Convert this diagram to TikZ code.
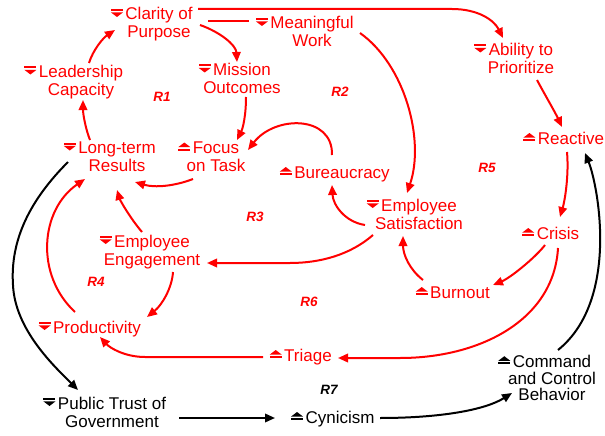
\documentclass[tikz,border=0pt]{standalone}
\usepackage{fontspec}
\setmainfont{Liberation Sans}
\usetikzlibrary{arrows.meta}
\definecolor{cred}{RGB}{255,0,0}
\newcommand\dnsym[1]{\tikz[baseline=0pt,x=1pt,y=1pt]{\fill[#1] (0,9) rectangle (12,11);\fill[#1] (0,7.6) -- (12,7.6) -- (6,3) -- cycle;}}
\newcommand\upsym[1]{\tikz[baseline=0pt,x=1pt,y=1pt]{\fill[#1] (0,3) rectangle (12,5);\fill[#1] (0,6.4) -- (12,6.4) -- (6,11) -- cycle;}}
\newcommand\ts{\rule[-4pt]{0pt}{17pt}}
\newcommand\dn[1]{\llap{\dnsym{#1}\hspace{2.5pt}}}
\newcommand\up[1]{\llap{\upsym{#1}\hspace{2.5pt}}}
\tikzset{
  var/.style={text=cred, align=center, inner sep=0pt, font=\fontsize{17pt}{16.8pt}\selectfont},
  bvar/.style={var, text=black},
  loop/.style={text=cred, inner sep=0pt, font=\fontsize{13.5pt}{14pt}\selectfont\bfseries\itshape},
  rl/.style={draw=cred, line width=2pt, -{Triangle[length=10pt,width=8.5pt]}},
  bl/.style={draw=black, line width=2pt, -{Triangle[length=10pt,width=8.5pt]}},
  rplain/.style={draw=cred, line width=2pt}
}
\begin{document}
\begin{tikzpicture}[x=1pt,y=-1pt]
\useasboundingbox (0,0) rectangle (605,436);
\fill[white] (0,0) rectangle (605,436);
% variables
\node[var] (clar) at (159,24.5) {\dn{cred}\ts Clarity of\\Purpose\ts};
\node[var] (mean) at (312,33.5) {\dn{cred}\ts Meaningful\\Work\ts};
\node[var] (mission) at (242,80) {\dn{cred}\ts Mission\\Outcomes\ts};
\node[var] (leader) at (81,82) {\dn{cred}\ts Leadership\\Capacity\ts};
\node[var] (longterm) at (117,158) {\dn{cred}\ts Long-term\\Results\ts};
\node[var] (focus) at (216,158) {\up{cred}\ts Focus\\on Task\ts};
\node[var] (bureau) at (342,173.5) {\up{cred}\ts Bureaucracy};
\node[var] (ability) at (521,60) {\dn{cred}\ts Ability to\\Prioritize\ts};
\node[var] (reactive) at (571,139.5) {\up{cred}\ts Reactive};
\node[var] (engage) at (152,251.5) {\dn{cred}\ts Employee\\Engagement\ts};
\node[var] (prod) at (97,328.5) {\dn{cred}\ts Productivity};
\node[var] (triage) at (308,356.5) {\up{cred}\ts Triage};
\node[var] (satis) at (419,215.5) {\dn{cred}\ts Employee\\Satisfaction\ts};
\node[var] (crisis) at (558,234.5) {\up{cred}\ts Crisis};
\node[var] (burnout) at (460,293.5) {\up{cred}\ts Burnout};
\node[bvar] (public) at (112,413.5) {\dn{black}\ts Public Trust of\\Government\ts};
\node[bvar] (cynic) at (340,418.5) {\up{black}\ts Cynicism};
\node[bvar] (command) at (552,379.5) {\up{black}\ts Command\\and Control\\Behavior\ts};
% loop labels
\node[loop] (r1) at (162,97) {R1};
\node[loop] (r2) at (340,92) {R2};
\node[loop] (r3) at (255,217) {R3};
\node[loop] (r4) at (96,282) {R4};
\node[loop] (r5) at (487,168) {R5};
\node[loop] (r6) at (309,302) {R6};
\node[loop, text=black] (r7) at (329,390) {R7};
% red connectors
\draw[rl] ([shift={(41,0.5)}]clar.center) .. controls (220,32) and (236,45) .. ([shift={(-5,-18)}]mission.center);
\draw[rl] ([shift={(39,-15.5)}]clar.center) -- (452,9) .. controls (478,9) and (494,20) .. ([shift={(-18,-22)}]ability.center);
\draw[rplain] ([shift={(49,-3.5)}]clar.center) -- ([shift={(-63,-12.5)}]mean.center);
\draw[rl] ([shift={(48,-0.5)}]mean.center) .. controls (405,65) and (425,140) .. ([shift={(-12,-22.5)}]satis.center);
\draw[rl] ([shift={(4,17)}]mission.center) .. controls (246,115) and (243,128) .. ([shift={(21,-18)}]focus.center);
\draw[rl] ([shift={(-10,-18.5)}]bureau.center) .. controls (333,115) and (275,115) .. ([shift={(32,-8)}]focus.center);
\draw[rl] ([shift={(-23,21)}]focus.center) .. controls (175,186) and (155,188) .. ([shift={(18,24)}]longterm.center);
\draw[rl] ([shift={(-27,-18)}]longterm.center) .. controls (86,130) and (83,115) .. ([shift={(2,18)}]leader.center);
\draw[rl] ([shift={(8,-19)}]leader.center) .. controls (93,50) and (103,38) .. ([shift={(-44,5.5)}]clar.center);
\draw[rl] ([shift={(-54,9.5)}]satis.center) .. controls (345,222) and (333,205) .. ([shift={(-10,11.5)}]bureau.center);
\draw[rl] ([shift={(-46,19.5)}]satis.center) .. controls (350,255) and (320,263) .. (290,263) -- ([shift={(55,11.5)}]engage.center);
\draw[rl] ([shift={(-37,-13.5)}]burnout.center) .. controls (410,270) and (403,255) .. ([shift={(-16,20.5)}]satis.center);
\draw[rl] ([shift={(-13,10.5)}]crisis.center) .. controls (535,258) and (510,278) .. ([shift={(33,-8.5)}]burnout.center);
\draw[rl] ([shift={(-4,12.5)}]reactive.center) .. controls (569,175) and (565,200) .. ([shift={(2,-17.5)}]crisis.center);
\draw[rl] ([shift={(16,20)}]ability.center) .. controls (545,95) and (555,112) .. ([shift={(-9,-12.5)}]reactive.center);
\draw[rl] ([shift={(0,13.5)}]crisis.center) .. controls (554,320) and (480,358) .. (400,358) -- ([shift={(30,1.5)}]triage.center);
\draw[rl] ([shift={(-45,0.5)}]triage.center) -- (145,357) .. controls (125,357) and (110,348) .. ([shift={(3,8.5)}]prod.center);
\draw[rl] ([shift={(21,20.5)}]engage.center) .. controls (172,288) and (162,305) .. ([shift={(50,-11.5)}]prod.center);
\draw[rl] ([shift={(-10,-19.5)}]engage.center) .. controls (130,218) and (120,200) .. ([shift={(0,32)}]longterm.center);
\draw[rl] ([shift={(-22,-16.5)}]prod.center) .. controls (35,275) and (40,210) .. ([shift={(-32,21)}]longterm.center);
% black connectors
\draw[bl] ([shift={(-49,4)}]longterm.center) .. controls (30,200) and (10,240) .. (13,285) .. controls (15,330) and (55,367) .. ([shift={(-34,-23.5)}]public.center);
\draw[bl] ([shift={(67,4.5)}]public.center) -- ([shift={(-65,-0.5)}]cynic.center);
\draw[bl] ([shift={(40,-0.5)}]cynic.center) .. controls (440,418) and (485,410) .. ([shift={(-40,13.5)}]command.center);
\draw[bl] ([shift={(6,-29.5)}]command.center) .. controls (620,300) and (598,185) .. ([shift={(14,13.5)}]reactive.center);
\end{tikzpicture}
\end{document}
